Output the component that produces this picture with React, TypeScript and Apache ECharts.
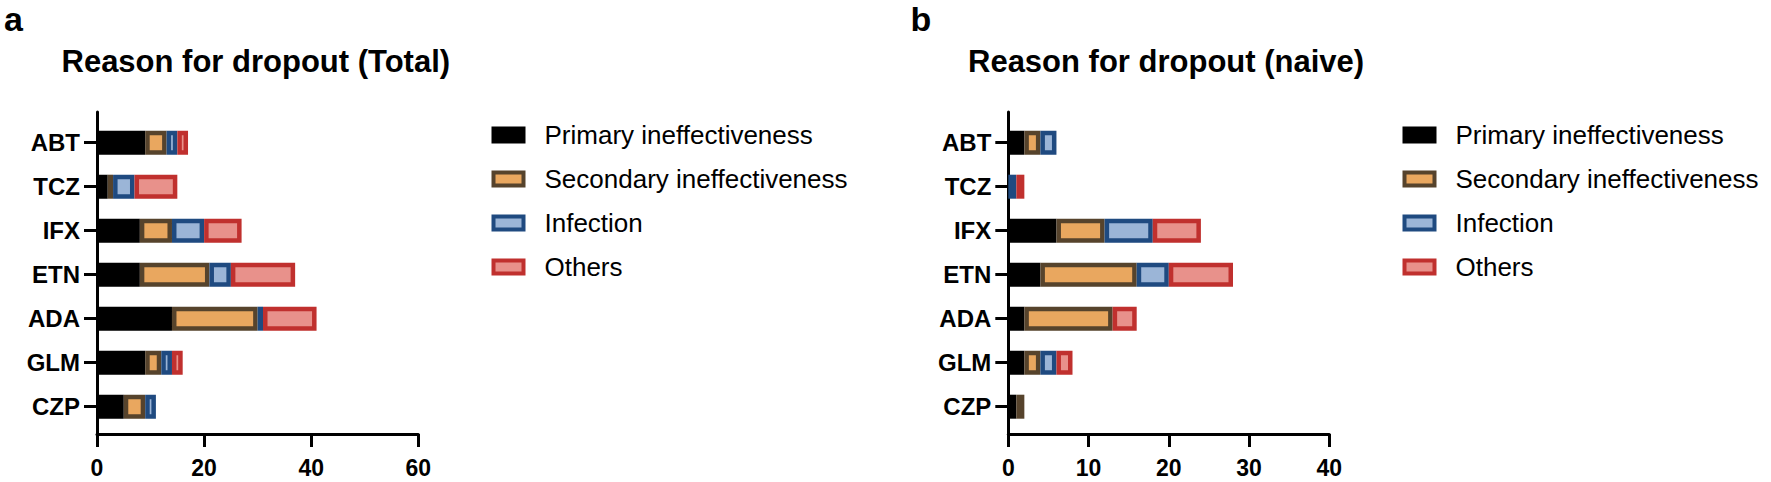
import React, { useEffect, useRef } from "react";
import * as echarts from "echarts";

const categories = ["ABT", "TCZ", "IFX", "ETN", "ADA", "GLM", "CZP"];
const seriesNames = [
  "Primary ineffectiveness",
  "Secondary ineffectiveness",
  "Infection",
  "Others",
];

// Panel a: Total
const totalPrimary = [9, 2, 8, 8, 14, 9, 5];
const totalSecondary = [4, 1, 6, 13, 16, 3, 4];
const totalInfection = [2, 4, 6, 4, 1, 2, 2];
const totalOthers = [2, 8, 7, 12, 10, 2, 0];

// Panel b: naive
const naivePrimary = [2, 0, 6, 4, 2, 2, 1];
const naiveSecondary = [2, 0, 6, 12, 11, 2, 1];
const naiveInfection = [2, 1, 6, 4, 0, 2, 0];
const naiveOthers = [0, 1, 6, 8, 3, 2, 0];

const xTicksA = { min: 0, max: 60, interval: 20 };
const xTicksB = { min: 0, max: 40, interval: 10 };

const FONT = "'Liberation Sans', Arial, Helvetica, sans-serif";
const fills = ["#000000", "#E9A75F", "#9BB5D7", "#E8918B"];
const borders = ["#000000", "#56432C", "#1F4A80", "#C0302E"];
const BW = 4.5;

export default function App() {
  const ref = useRef<HTMLDivElement>(null);
  useEffect(() => {
    if (!ref.current) return;
    const chart = echarts.init(ref.current, null, { renderer: "svg" });

    const panels = [
      { data: [totalPrimary, totalSecondary, totalInfection, totalOthers], left: 97, width: 321.3, ticks: xTicksA, legendLeft: 491.5 },
      { data: [naivePrimary, naiveSecondary, naiveInfection, naiveOthers], left: 1008.3, width: 321, ticks: xTicksB, legendLeft: 1402.5 },
    ];

    const grid: any[] = [];
    const xAxis: any[] = [];
    const yAxis: any[] = [];
    const series: any[] = [];
    const legend: any[] = [];

    panels.forEach((p, i) => {
      const barGrid = grid.length;
      grid.push({ left: p.left, width: p.width, top: 120.7, height: 308 });
      const axGrid = grid.length;
      grid.push({ left: p.left, width: p.width, top: 112, height: 322 });

      xAxis.push({
        gridIndex: barGrid, type: "value", min: p.ticks.min, max: p.ticks.max, show: false,
      });
      yAxis.push({
        gridIndex: barGrid, type: "category", data: categories, inverse: true,
        axisLine: { show: false },
        axisTick: { show: true, alignWithLabel: true, length: 13, lineStyle: { width: 3, color: "#000" } },
        axisLabel: { margin: 17, fontSize: 24, fontWeight: "bold", color: "#000", fontFamily: FONT },
        splitLine: { show: false },
      });
      xAxis.push({
        gridIndex: axGrid, type: "value", min: p.ticks.min, max: p.ticks.max, interval: p.ticks.interval,
        axisLine: { show: true, lineStyle: { width: 3, color: "#000" } },
        axisTick: { show: true, length: 13, lineStyle: { width: 3, color: "#000" } },
        axisLabel: { margin: 22, fontSize: 23, fontWeight: "bold", color: "#000", fontFamily: FONT },
        splitLine: { show: false },
      });
      yAxis.push({
        gridIndex: axGrid, type: "value", min: 0, max: 1,
        axisLine: { show: true, lineStyle: { width: 3, color: "#000" } },
        axisTick: { show: false }, axisLabel: { show: false }, splitLine: { show: false },
      });

      p.data.forEach((arr, k) => {
        series.push({
          type: "bar",
          name: seriesNames[k],
          xAxisIndex: i * 2,
          yAxisIndex: i * 2,
          stack: "s" + i,
          barWidth: 24,
          data: arr.map((v) => (v === 0 ? "-" : v)),
          itemStyle: { color: fills[k], borderColor: borders[k], borderWidth: BW },
          emphasis: { disabled: true },
        });
      });

      legend.push({
        orient: "vertical",
        left: p.legendLeft,
        top: 122,
        padding: 0,
        itemWidth: 30,
        itemHeight: 13,
        itemGap: 18,
        selectedMode: false,
        textStyle: { fontSize: 26, color: "#000", fontFamily: FONT, padding: [0, 0, 0, 16] },
        data: seriesNames.map((n, k) => ({
          name: n,
          icon: "rect",
          itemStyle: { color: fills[k], borderColor: borders[k], borderWidth: 4 },
        })),
      });
    });

    const txt = (text: string, x: number, y: number, size: number) => ({
      type: "text", x, y,
      style: { text, fontSize: size, fontWeight: "bold", fontFamily: FONT, fill: "#000", verticalAlign: "middle", align: "left" },
    });

    chart.setOption({
      animation: false,
      backgroundColor: "#fff",
      grid, xAxis, yAxis, series, legend,
      graphic: [
        txt("a", 4, 19, 34),
        txt("b", 910.5, 19, 34),
        txt("Reason for dropout (Total)", 61.5, 61, 31),
        txt("Reason for dropout (naive)", 968, 61, 31),
      ],
    });
    return () => chart.dispose();
  }, []);
  return <div ref={ref} style={{ position: "fixed", left: 0, top: 0, width: 1771, height: 482 }} />;
}
